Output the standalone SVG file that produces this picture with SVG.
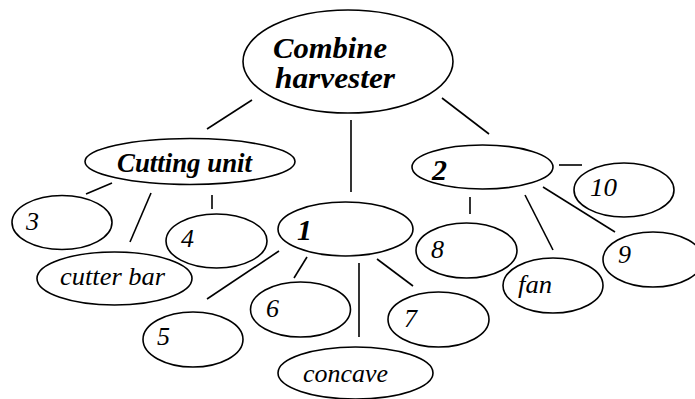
<svg xmlns="http://www.w3.org/2000/svg" width="695" height="399" viewBox="0 0 695 399">
<style>
  .n ellipse { fill: #fff; stroke: #000; stroke-width: 1.6; }
  #connectors line { stroke: #000; stroke-width: 1.6; }
  text { font-family: "Liberation Serif", serif; font-style: italic; font-size: 26px; fill: #000; }
  text.b { font-weight: bold; }
</style>
<rect width="695" height="399" fill="#fff"/>
<g id="connectors">
  <line x1="252" y1="100" x2="207" y2="129"/>
  <line x1="351" y1="120" x2="351" y2="192"/>
  <line x1="442" y1="98" x2="489" y2="134"/>
  <line x1="559" y1="165" x2="582" y2="165"/>
  <line x1="112" y1="183" x2="86" y2="194"/>
  <line x1="151" y1="193" x2="130" y2="242"/>
  <line x1="212" y1="195" x2="212" y2="209"/>
  <line x1="279" y1="251" x2="207" y2="299"/>
  <line x1="307" y1="257" x2="294" y2="278"/>
  <line x1="359" y1="263" x2="359" y2="337"/>
  <line x1="377" y1="259" x2="413" y2="286"/>
  <line x1="470" y1="197" x2="470" y2="214"/>
  <line x1="525" y1="195" x2="553" y2="250"/>
  <line x1="543" y1="187" x2="615" y2="232"/>
</g>
<g id="combine" class="n">
  <ellipse cx="348" cy="61.5" rx="105" ry="51.5"/>
  <text class="b" x="273" y="58" style="font-size:30px" textLength="114" lengthAdjust="spacingAndGlyphs">Combine</text>
  <text class="b" x="275" y="88" style="font-size:30px" textLength="120" lengthAdjust="spacingAndGlyphs">harvester</text>
</g>
<g id="cutting" class="n">
  <ellipse cx="190" cy="161.5" rx="105" ry="23"/>
  <text class="b" x="117" y="172" style="font-size:27px" textLength="135" lengthAdjust="spacingAndGlyphs">Cutting unit</text>
</g>
<g id="n1" class="n">
  <ellipse cx="345.5" cy="229" rx="67.5" ry="27"/>
  <text class="b" x="297" y="240" style="font-size:30px">1</text>
</g>
<g id="n2" class="n">
  <ellipse cx="482.5" cy="167" rx="70.5" ry="22"/>
  <text class="b" x="432" y="180" style="font-size:30px">2</text>
</g>
<g id="n3" class="n">
  <ellipse cx="62" cy="222.5" rx="50" ry="27"/>
  <text x="26" y="230">3</text>
</g>
<g id="cutterbar" class="n">
  <ellipse cx="114.5" cy="278.5" rx="77.5" ry="26.5"/>
  <text x="60" y="285" textLength="105" lengthAdjust="spacingAndGlyphs">cutter bar</text>
</g>
<g id="n4" class="n">
  <ellipse cx="216.5" cy="241" rx="50.5" ry="27"/>
  <text x="181" y="247">4</text>
</g>
<g id="n5" class="n">
  <ellipse cx="193" cy="339.5" rx="50" ry="27.5"/>
  <text x="157" y="345">5</text>
</g>
<g id="n6" class="n">
  <ellipse cx="300.5" cy="309.5" rx="50" ry="27.5"/>
  <text x="266" y="317">6</text>
</g>
<g id="concave" class="n">
  <ellipse cx="355.5" cy="373" rx="77.5" ry="26"/>
  <text x="303" y="382" textLength="85" lengthAdjust="spacingAndGlyphs">concave</text>
</g>
<g id="n7" class="n">
  <ellipse cx="438.5" cy="319.5" rx="50.5" ry="27.5"/>
  <text x="404" y="327">7</text>
</g>
<g id="n8" class="n">
  <ellipse cx="466.5" cy="250.5" rx="50.5" ry="27.5"/>
  <text x="431" y="258">8</text>
</g>
<g id="fan" class="n">
  <ellipse cx="553" cy="285.5" rx="50" ry="27.5"/>
  <text x="518" y="293" textLength="34" lengthAdjust="spacingAndGlyphs">fan</text>
</g>
<g id="n9" class="n">
  <ellipse cx="653" cy="259.5" rx="50" ry="27.5"/>
  <text x="618" y="263">9</text>
</g>
<g id="n10" class="n">
  <ellipse cx="624" cy="190" rx="50" ry="27"/>
  <text x="590" y="196" textLength="27" lengthAdjust="spacingAndGlyphs">10</text>
</g>
</svg>
